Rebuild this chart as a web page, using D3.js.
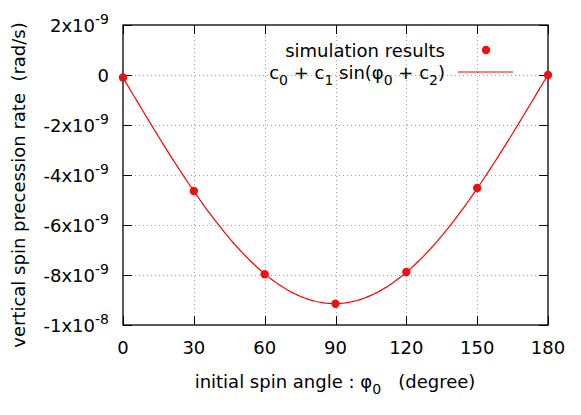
<!DOCTYPE html>
<html><head><meta charset="utf-8">
<script src="https://cdn.jsdelivr.net/npm/d3@7"></script>
<style>body{margin:0;background:#fff}text{font-family:"DejaVu Sans",sans-serif;fill:#000}</style>
</head><body><svg id="c" width="581" height="415"></svg>
<script>
const angles = [0, 30, 60, 90, 120, 150, 180];
const rates = [-0.1e-9, -4.64e-9, -7.97e-9, -9.15e-9, -7.88e-9, -4.52e-9, 0.0e-9];
const xTicks = [0, 30, 60, 90, 120, 150, 180];
const yTicks = [2e-9, 0, -2e-9, -4e-9, -6e-9, -8e-9, -1e-8];
const yTickBase = ["2x10", "0", "-2x10", "-4x10", "-6x10", "-8x10", "-1x10"];
const yTickExp = ["-9", "", "-9", "-9", "-9", "-9", "-8"];

const W = 581, H = 415, m = {l: 123, r: 33, t: 25, b: 90};
const svg = d3.select("#c");
const x = d3.scaleLinear().domain([0, 180]).range([m.l, W - m.r]);
const y = d3.scaleLinear().domain([-1e-8, 2e-9]).range([H - m.b, m.t]);
const fs = 18, fss = 14;

// least squares fit y = c0 + a sin(phi) + b cos(phi)
function fit() {
  const rows = angles.map(a => { const r = a * Math.PI / 180; return [1, Math.sin(r), Math.cos(r)]; });
  const A = [[0,0,0],[0,0,0],[0,0,0]], B = [0,0,0];
  rows.forEach((row, k) => { for (let i=0;i<3;i++){ B[i]+=row[i]*rates[k]*1e9; for(let j=0;j<3;j++) A[i][j]+=row[i]*row[j]; } });
  for (let i=0;i<3;i++){ for(let k=i+1;k<3;k++){ const f=A[k][i]/A[i][i]; for(let j=i;j<3;j++) A[k][j]-=f*A[i][j]; B[k]-=f*B[i]; } }
  const s=[0,0,0]; for(let i=2;i>=0;i--){ let v=B[i]; for(let j=i+1;j<3;j++) v-=A[i][j]*s[j]; s[i]=v/A[i][i]; }
  return s;
}
const [c0, a1, b1] = fit();
const curve = d3.range(0, 180.5, 1).map(p => { const r = p*Math.PI/180; return [p, (c0 + a1*Math.sin(r) + b1*Math.cos(r))*1e-9]; });

// grid
const g = svg.append("g");
xTicks.forEach(t => { if (t>0 && t<180) g.append("line").attr("x1", Math.round(x(t))+0.5).attr("x2", Math.round(x(t))+0.5).attr("y1", y(-1e-8)).attr("y2", y(2e-9)).attr("stroke", "#a0a0a0").attr("stroke-width", 1).attr("stroke-dasharray", "1,3"); });
yTicks.forEach(t => { if (t>-1e-8 && t<2e-9) g.append("line").attr("x1", x(0)).attr("x2", x(180)).attr("y1", Math.round(y(t))+0.5).attr("y2", Math.round(y(t))+0.5).attr("stroke", "#a0a0a0").attr("stroke-width", 1).attr("stroke-dasharray", "1,3"); });

// ticks (inward, mirrored)
const tl = 9;
xTicks.forEach(t => {
  const xx = Math.round(x(t)) + 0.5;
  g.append("line").attr("x1", xx).attr("x2", xx).attr("y1", y(-1e-8)).attr("y2", y(-1e-8)-tl).attr("stroke", "#000");
  g.append("line").attr("x1", xx).attr("x2", xx).attr("y1", y(2e-9)).attr("y2", y(2e-9)+tl).attr("stroke", "#000");
  g.append("text").attr("x", x(t)).attr("y", y(-1e-8) + 29).attr("text-anchor", "middle").attr("font-size", fs).text(t);
});
yTicks.forEach((t, i) => {
  const yy = Math.round(y(t)) + 0.5;
  g.append("line").attr("x1", x(0)).attr("x2", x(0)+tl).attr("y1", yy).attr("y2", yy).attr("stroke", "#000");
  g.append("line").attr("x1", x(180)).attr("x2", x(180)-tl).attr("y1", yy).attr("y2", yy).attr("stroke", "#000");
  const tx = g.append("text").attr("x", x(0) - 14).attr("y", y(t) + 7).attr("text-anchor", "end").attr("font-size", fs);
  tx.append("tspan").text(yTickBase[i]);
  if (yTickExp[i]) tx.append("tspan").attr("dy", -8).attr("font-size", fss).text(yTickExp[i]);
});

// frame
svg.append("rect").attr("x", x(0)).attr("y", y(2e-9)).attr("width", x(180)-x(0)).attr("height", y(-1e-8)-y(2e-9)).attr("fill", "none").attr("stroke", "#000").attr("stroke-width", 1.3);

// curve
svg.append("path").datum(curve).attr("fill", "none").attr("stroke", "#ff0000").attr("stroke-width", 1.2)
  .attr("d", d3.line().x(d => x(d[0])).y(d => y(d[1])));
// points
svg.selectAll("circle.p").data(angles).enter().append("circle").attr("class", "p")
  .attr("cx", d => x(d)).attr("cy", (d, i) => y(rates[i])).attr("r", 4.2).attr("fill", "#ee1111");

// legend
const lx = 445;
svg.append("text").attr("x", lx).attr("y", 57).attr("text-anchor", "end").attr("font-size", fs).text("simulation results");
svg.append("circle").attr("cx", 486).attr("cy", 50).attr("r", 4.2).attr("fill", "#ee1111");
const lt = svg.append("text").attr("x", lx).attr("y", 79).attr("text-anchor", "end").attr("font-size", fs);
const sub = (t) => { lt.append("tspan").attr("dy", 6).attr("font-size", fss).text(t); };
lt.append("tspan").text("c"); sub("0");
lt.append("tspan").attr("dy", -6).text(" + c"); sub("1");
lt.append("tspan").attr("dy", -6).text(" sin(φ"); sub("0");
lt.append("tspan").attr("dy", -6).text(" + c"); sub("2");
lt.append("tspan").attr("dy", -6).text(")");
svg.append("line").attr("x1", 458).attr("x2", 513).attr("y1", 72).attr("y2", 72).attr("stroke", "#ff0000").attr("stroke-width", 1.2);

// axis labels
const xl = svg.append("text").attr("x", 335).attr("y", 388).attr("text-anchor", "middle").attr("font-size", fs);
xl.append("tspan").text("initial spin angle : φ");
xl.append("tspan").attr("dy", 6).attr("font-size", fss).text("0");
xl.append("tspan").attr("dy", -6).text("\u00a0\u00a0 (degree)");
svg.append("text").attr("transform", `translate(25,${185}) rotate(-90)`).attr("text-anchor", "middle").attr("font-size", fs)
  .text("vertical spin precession rate\u00a0\u00a0(rad/s)");
</script></body></html>
